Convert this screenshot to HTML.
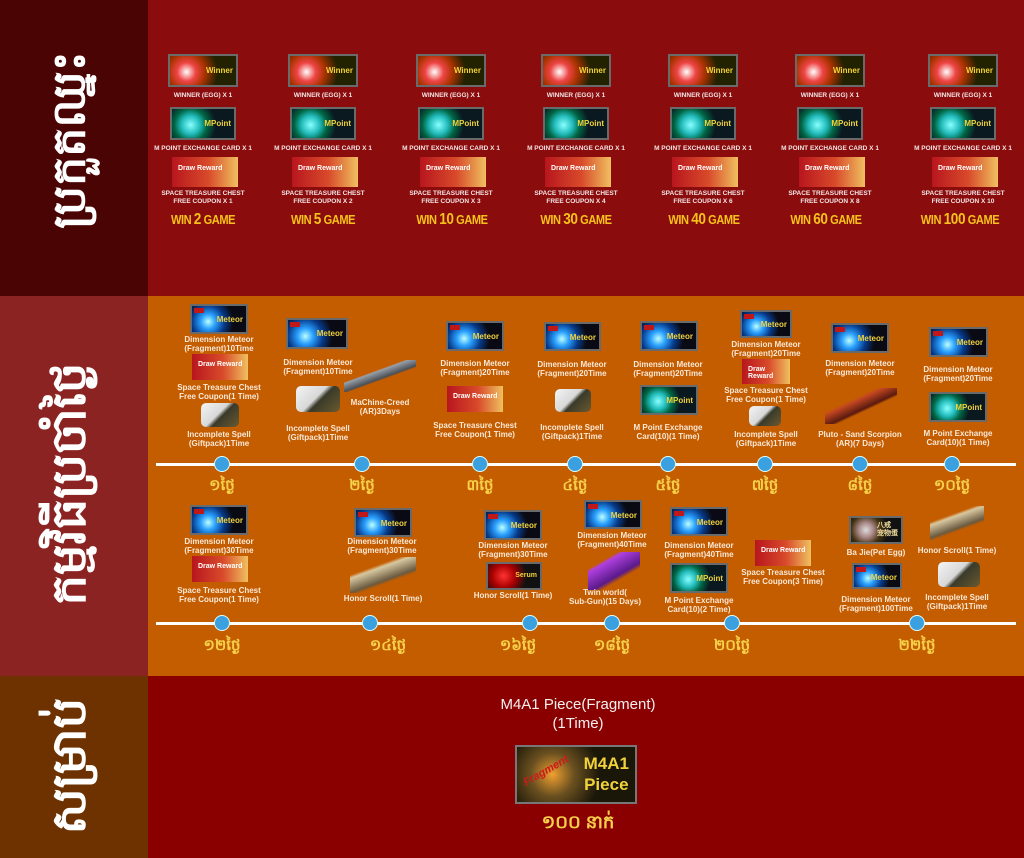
<!DOCTYPE html>
<html><head><meta charset="utf-8">
<style>
*{margin:0;padding:0;box-sizing:border-box}
body{width:1024px;height:858px;position:relative;overflow:hidden;font-family:"Liberation Sans",sans-serif;background:#8a0c0c}
.a{position:absolute}
.sec{position:absolute;left:0;width:1024px}
.side{position:absolute;left:0;top:0;width:148px;height:100%}
.vt{position:absolute;left:74px;color:#fff;font:bold 44px "Liberation Sans","Noto Sans CJK SC",sans-serif;white-space:nowrap;transform:translate(-50%,-50%) rotate(-90deg)}
.l{position:absolute;transform:translateX(-50%);text-align:center;font:bold 8px/9px "Liberation Sans",sans-serif;color:#fbe9d6;white-space:nowrap}
.tl{font:bold 6.5px/8px "Liberation Sans",sans-serif;color:#f4e4e4}
.win{position:absolute;transform:translateX(-50%) scaleX(0.85);font:bold 13px "Liberation Sans",sans-serif;color:#f5c21b;white-space:nowrap;letter-spacing:-0.5px}
.win b{font-size:16px}
.ic{position:absolute;border:2px solid #6a6a6a;background:#0b0b0b;overflow:hidden}
.meteor{background:radial-gradient(circle at 30% 60%,#bff 0,#2aa0ff 18%,#063a8a 40%,#0a0a14 62%)}
.meteor span,.mp span,.win2 span{position:absolute;right:3px;top:35%;font:bold 8px sans-serif;color:#f2d23a}
.meteor:before{content:"";position:absolute;left:2px;top:2px;width:10px;height:5px;background:#c01818}
.mp{background:radial-gradient(circle at 30% 55%,#8ff 0,#2bb 20%,#064 35%,#0a1820 55%)}
.mp span{color:#f2d23a}
.win2{background:radial-gradient(circle at 25% 55%,#fff 0,#e44 18%,#a30 35%,#220 60%)}
.draw{position:absolute;background:linear-gradient(90deg,#b8161e,#d84a2a 55%,#f0c060);border:none}
.draw span{position:absolute;left:6px;top:28%;font:bold 7px sans-serif;color:#fff}
.spell{position:absolute;background:linear-gradient(135deg,#f4f4f4 0,#d8d8d8 45%,#3a3a2a 55%,#6a5a30 100%);border-radius:5px}
.gun{position:absolute;background:linear-gradient(160deg,transparent 38%,#9aa0a8 40%,#4a4f55 55%,transparent 58%)}
.gun2{position:absolute;background:linear-gradient(155deg,transparent 35%,#c84a20 38%,#5a1a10 56%,transparent 60%)}
.gun3{position:absolute;background:linear-gradient(150deg,transparent 25%,#b040e0 30%,#5a1a8a 60%,transparent 68%)}
.scroll{position:absolute;background:linear-gradient(160deg,transparent 30%,#d8c8a0 36%,#6a5a40 60%,transparent 66%)}
.line{position:absolute;height:3px;background:#fff}
.dot{position:absolute;width:16px;height:16px;border-radius:50%;background:#3aa0e0;border:1px solid #dff;transform:translate(-50%,-50%)}
.day{position:absolute;transform:translateX(-50%);font:bold 15px "Liberation Sans",sans-serif;color:#f6d04a;white-space:nowrap}
</style></head><body>

<div class="sec" style="top:0;height:296px;background:#8a0c0c">
 <div class="side" style="background:#4a0404"></div>
 <div class="vt" style="top:140px;font-size:46px">ប្រកួតឈ្នះ</div>
</div>
<div class="sec" style="top:296px;height:380px;background:#c45c00">
 <div class="side" style="background:#8b2323"></div>
 <div class="vt" style="top:188px;font-size:48px">កម្មវិធីប្រចាំថ្ងៃ</div>
</div>
<div class="sec" style="top:676px;height:182px;background:#8a0000">
 <div class="side" style="background:#6e3200"></div>
 <div class="vt" style="top:90px;font-size:48px">សម្រាប់</div>
</div>

<div class="ic win2" style="left:168px;top:54px;width:70px;height:33px"><span>Winner</span></div>
<div class="ic win2" style="left:288px;top:54px;width:70px;height:33px"><span>Winner</span></div>
<div class="ic win2" style="left:416px;top:54px;width:70px;height:33px"><span>Winner</span></div>
<div class="ic win2" style="left:541px;top:54px;width:70px;height:33px"><span>Winner</span></div>
<div class="ic win2" style="left:668px;top:54px;width:70px;height:33px"><span>Winner</span></div>
<div class="ic win2" style="left:795px;top:54px;width:70px;height:33px"><span>Winner</span></div>
<div class="ic win2" style="left:928px;top:54px;width:70px;height:33px"><span>Winner</span></div>

<div class="l tl" style="left:203px;top:92px">WINNER (EGG) X 1</div>
<div class="l tl" style="left:323px;top:92px">WINNER (EGG) X 1</div>
<div class="l tl" style="left:451px;top:92px">WINNER (EGG) X 1</div>
<div class="l tl" style="left:576px;top:92px">WINNER (EGG) X 1</div>
<div class="l tl" style="left:703px;top:92px">WINNER (EGG) X 1</div>
<div class="l tl" style="left:830px;top:92px">WINNER (EGG) X 1</div>
<div class="l tl" style="left:963px;top:92px">WINNER (EGG) X 1</div>

<div class="ic mp" style="left:170px;top:107px;width:66px;height:33px"><span>MPoint</span></div>
<div class="ic mp" style="left:290px;top:107px;width:66px;height:33px"><span>MPoint</span></div>
<div class="ic mp" style="left:418px;top:107px;width:66px;height:33px"><span>MPoint</span></div>
<div class="ic mp" style="left:543px;top:107px;width:66px;height:33px"><span>MPoint</span></div>
<div class="ic mp" style="left:670px;top:107px;width:66px;height:33px"><span>MPoint</span></div>
<div class="ic mp" style="left:797px;top:107px;width:66px;height:33px"><span>MPoint</span></div>
<div class="ic mp" style="left:930px;top:107px;width:66px;height:33px"><span>MPoint</span></div>

<div class="l tl" style="left:203px;top:145px">M POINT EXCHANGE CARD X 1</div>
<div class="l tl" style="left:323px;top:145px">M POINT EXCHANGE CARD X 1</div>
<div class="l tl" style="left:451px;top:145px">M POINT EXCHANGE CARD X 1</div>
<div class="l tl" style="left:576px;top:145px">M POINT EXCHANGE CARD X 1</div>
<div class="l tl" style="left:703px;top:145px">M POINT EXCHANGE CARD X 1</div>
<div class="l tl" style="left:830px;top:145px">M POINT EXCHANGE CARD X 1</div>
<div class="l tl" style="left:963px;top:145px">M POINT EXCHANGE CARD X 1</div>

<div class="draw" style="left:172px;top:157px;width:66px;height:30px"><span>Draw Reward</span></div>
<div class="draw" style="left:292px;top:157px;width:66px;height:30px"><span>Draw Reward</span></div>
<div class="draw" style="left:420px;top:157px;width:66px;height:30px"><span>Draw Reward</span></div>
<div class="draw" style="left:545px;top:157px;width:66px;height:30px"><span>Draw Reward</span></div>
<div class="draw" style="left:672px;top:157px;width:66px;height:30px"><span>Draw Reward</span></div>
<div class="draw" style="left:799px;top:157px;width:66px;height:30px"><span>Draw Reward</span></div>
<div class="draw" style="left:932px;top:157px;width:66px;height:30px"><span>Draw Reward</span></div>

<div class="l tl" style="left:203px;top:190px">SPACE TREASURE CHEST<br>FREE COUPON  X 1</div>
<div class="l tl" style="left:323px;top:190px">SPACE TREASURE CHEST<br>FREE COUPON  X 2</div>
<div class="l tl" style="left:451px;top:190px">SPACE TREASURE CHEST<br>FREE COUPON  X 3</div>
<div class="l tl" style="left:576px;top:190px">SPACE TREASURE CHEST<br>FREE COUPON  X 4</div>
<div class="l tl" style="left:703px;top:190px">SPACE TREASURE CHEST<br>FREE COUPON  X 6</div>
<div class="l tl" style="left:830px;top:190px">SPACE TREASURE CHEST<br>FREE COUPON  X 8</div>
<div class="l tl" style="left:963px;top:190px">SPACE TREASURE CHEST<br>FREE COUPON  X 10</div>

<div class="win" style="left:203px;top:211px">WIN <b>2</b> GAME</div>
<div class="win" style="left:323px;top:211px">WIN <b>5</b> GAME</div>
<div class="win" style="left:452px;top:211px">WIN <b>10</b> GAME</div>
<div class="win" style="left:576px;top:211px">WIN <b>30</b> GAME</div>
<div class="win" style="left:704px;top:211px">WIN <b>40</b> GAME</div>
<div class="win" style="left:826px;top:211px">WIN <b>60</b> GAME</div>
<div class="win" style="left:960px;top:211px">WIN <b>100</b> GAME</div>

<div class="ic meteor" style="left:190px;top:304px;width:58px;height:30px"><span>Meteor</span></div>
<div class="l" style="left:219px;top:335px">Dimension Meteor<br>(Fragment)10Time</div>
<div class="draw" style="left:192px;top:354px;width:56px;height:26px"><span>Draw Reward</span></div>
<div class="l" style="left:219px;top:383px">Space Treasure Chest<br>Free Coupon(1 Time)</div>
<div class="spell" style="left:201px;top:403px;width:38px;height:24px"></div>
<div class="l" style="left:219px;top:430px">Incomplete Spell<br>(Giftpack)1Time</div>

<div class="ic meteor" style="left:286px;top:318px;width:62px;height:31px"><span>Meteor</span></div>
<div class="l" style="left:318px;top:358px">Dimension Meteor<br>(Fragment)10Time</div>
<div class="gun" style="left:344px;top:360px;width:72px;height:32px"></div>
<div class="l" style="left:380px;top:398px">MaChine-Creed<br>(AR)3Days</div>
<div class="spell" style="left:296px;top:386px;width:44px;height:26px"></div>
<div class="l" style="left:318px;top:424px">Incomplete Spell<br>(Giftpack)1Time</div>

<div class="ic meteor" style="left:446px;top:321px;width:58px;height:30px"><span>Meteor</span></div>
<div class="l" style="left:475px;top:359px">Dimension Meteor<br>(Fragment)20Time</div>
<div class="draw" style="left:447px;top:386px;width:56px;height:26px"><span>Draw Reward</span></div>
<div class="l" style="left:475px;top:421px">Space Treasure Chest<br>Free Coupon(1 Time)</div>

<div class="ic meteor" style="left:544px;top:322px;width:57px;height:29px"><span>Meteor</span></div>
<div class="l" style="left:572px;top:360px">Dimension Meteor<br>(Fragment)20Time</div>
<div class="spell" style="left:555px;top:389px;width:36px;height:23px"></div>
<div class="l" style="left:572px;top:423px">Incomplete Spell<br>(Giftpack)1Time</div>

<div class="ic meteor" style="left:640px;top:321px;width:58px;height:30px"><span>Meteor</span></div>
<div class="l" style="left:668px;top:360px">Dimension Meteor<br>(Fragment)20Time</div>
<div class="ic mp" style="left:640px;top:385px;width:58px;height:30px"><span>MPoint</span></div>
<div class="l" style="left:668px;top:423px">M Point Exchange<br>Card(10)(1 Time)</div>

<div class="ic meteor" style="left:740px;top:310px;width:52px;height:28px"><span>Meteor</span></div>
<div class="l" style="left:766px;top:340px">Dimension Meteor<br>(Fragment)20Time</div>
<div class="draw" style="left:742px;top:359px;width:48px;height:25px"><span>Draw Reward</span></div>
<div class="l" style="left:766px;top:386px">Space Treasure Chest<br>Free Coupon(1 Time)</div>
<div class="spell" style="left:749px;top:406px;width:32px;height:20px"></div>
<div class="l" style="left:766px;top:430px">Incomplete Spell<br>(Giftpack)1Time</div>

<div class="ic meteor" style="left:831px;top:323px;width:58px;height:30px"><span>Meteor</span></div>
<div class="l" style="left:860px;top:359px">Dimension Meteor<br>(Fragment)20Time</div>
<div class="gun2" style="left:825px;top:388px;width:72px;height:36px"></div>
<div class="l" style="left:860px;top:430px">Pluto - Sand Scorpion<br>(AR)(7 Days)</div>

<div class="ic meteor" style="left:929px;top:327px;width:59px;height:30px"><span>Meteor</span></div>
<div class="l" style="left:958px;top:365px">Dimension Meteor<br>(Fragment)20Time</div>
<div class="ic mp" style="left:929px;top:392px;width:58px;height:30px"><span>MPoint</span></div>
<div class="l" style="left:958px;top:429px">M Point Exchange<br>Card(10)(1 Time)</div>

<div class="line" style="left:156px;top:463px;width:860px"></div>
<div class="dot" style="left:222px;top:464px"></div>
<div class="dot" style="left:362px;top:464px"></div>
<div class="dot" style="left:480px;top:464px"></div>
<div class="dot" style="left:575px;top:464px"></div>
<div class="dot" style="left:668px;top:464px"></div>
<div class="dot" style="left:765px;top:464px"></div>
<div class="dot" style="left:860px;top:464px"></div>
<div class="dot" style="left:952px;top:464px"></div>
<div class="day" style="left:222px;top:476px">១ថ្ងៃ</div>
<div class="day" style="left:362px;top:476px">២ថ្ងៃ</div>
<div class="day" style="left:480px;top:476px">៣ថ្ងៃ</div>
<div class="day" style="left:575px;top:476px">៤ថ្ងៃ</div>
<div class="day" style="left:668px;top:476px">៥ថ្ងៃ</div>
<div class="day" style="left:765px;top:476px">៧ថ្ងៃ</div>
<div class="day" style="left:860px;top:476px">៨ថ្ងៃ</div>
<div class="day" style="left:952px;top:476px">១០ថ្ងៃ</div>

<div class="ic meteor" style="left:190px;top:505px;width:58px;height:30px"><span>Meteor</span></div>
<div class="l" style="left:219px;top:537px">Dimension Meteor<br>(Fragment)30Time</div>
<div class="draw" style="left:192px;top:556px;width:56px;height:26px"><span>Draw Reward</span></div>
<div class="l" style="left:219px;top:586px">Space Treasure Chest<br>Free Coupon(1 Time)</div>

<div class="ic meteor" style="left:354px;top:508px;width:58px;height:29px"><span>Meteor</span></div>
<div class="l" style="left:382px;top:537px">Dimension Meteor<br>(Fragment)30Time</div>
<div class="scroll" style="left:350px;top:557px;width:66px;height:36px"></div>
<div class="l" style="left:383px;top:594px">Honor Scroll(1 Time)</div>

<div class="ic meteor" style="left:484px;top:510px;width:58px;height:30px"><span>Meteor</span></div>
<div class="l" style="left:513px;top:541px">Dimension Meteor<br>(Fragment)30Time</div>
<div class="ic" style="left:486px;top:562px;width:56px;height:28px;background:radial-gradient(circle at 30% 50%,#f33 0,#a00 30%,#111 60%)"><span style="position:absolute;right:3px;top:8px;font:bold 7px sans-serif;color:#f2d23a">Serum</span></div>
<div class="l" style="left:513px;top:591px">Honor Scroll(1 Time)</div>

<div class="ic meteor" style="left:584px;top:500px;width:58px;height:29px"><span>Meteor</span></div>
<div class="l" style="left:612px;top:531px">Dimension Meteor<br>(Fragment)40Time</div>
<div class="gun3" style="left:588px;top:552px;width:52px;height:38px"></div>
<div class="l" style="left:605px;top:588px">Twin world(<br>Sub-Gun)(15 Days)</div>

<div class="ic meteor" style="left:670px;top:507px;width:58px;height:29px"><span>Meteor</span></div>
<div class="l" style="left:699px;top:541px">Dimension Meteor<br>(Fragment)40Time</div>
<div class="ic mp" style="left:670px;top:563px;width:58px;height:30px"><span>MPoint</span></div>
<div class="l" style="left:699px;top:596px">M Point Exchange<br>Card(10)(2 Time)</div>

<div class="draw" style="left:755px;top:540px;width:56px;height:26px"><span>Draw Reward</span></div>
<div class="l" style="left:783px;top:568px">Space Treasure Chest<br>Free Coupon(3 Time)</div>

<div class="ic" style="left:849px;top:516px;width:54px;height:28px;background:radial-gradient(circle at 30% 50%,#ddd 0,#a88 20%,#431 40%,#111 60%)"><span style="position:absolute;right:3px;top:4px;font:bold 7px/8px sans-serif;color:#f2e0a0">八戒<br>宠物蛋</span></div>
<div class="l" style="left:876px;top:548px">Ba Jie(Pet Egg)</div>
<div class="ic meteor" style="left:852px;top:563px;width:50px;height:26px"><span>Meteor</span></div>
<div class="l" style="left:876px;top:595px">Dimension Meteor<br>(Fragment)100Time</div>

<div class="scroll" style="left:930px;top:506px;width:54px;height:34px"></div>
<div class="l" style="left:957px;top:546px">Honor Scroll(1 Time)</div>
<div class="spell" style="left:938px;top:562px;width:42px;height:25px"></div>
<div class="l" style="left:957px;top:593px">Incomplete Spell<br>(Giftpack)1Time</div>

<div class="line" style="left:156px;top:622px;width:860px"></div>
<div class="dot" style="left:222px;top:623px"></div>
<div class="dot" style="left:370px;top:623px"></div>
<div class="dot" style="left:530px;top:623px"></div>
<div class="dot" style="left:612px;top:623px"></div>
<div class="dot" style="left:732px;top:623px"></div>
<div class="dot" style="left:917px;top:623px"></div>
<div class="day" style="left:222px;top:636px">១២ថ្ងៃ</div>
<div class="day" style="left:388px;top:636px">១៤ថ្ងៃ</div>
<div class="day" style="left:518px;top:636px">១៦ថ្ងៃ</div>
<div class="day" style="left:612px;top:636px">១៨ថ្ងៃ</div>
<div class="day" style="left:732px;top:636px">២០ថ្ងៃ</div>
<div class="day" style="left:917px;top:636px">២២ថ្ងៃ</div>

<div class="a" style="left:578px;top:695px;transform:translateX(-50%);text-align:center;color:#f4f0f0;font:15px/19px 'Liberation Sans',sans-serif;white-space:nowrap">M4A1 Piece(Fragment)<br>(1Time)</div>
<div class="ic" style="left:515px;top:745px;width:122px;height:59px;border-color:#777;background:radial-gradient(circle at 30% 50%,#f0a030 0,#6a5020 25%,#1a1608 55%)">
 <span style="position:absolute;left:4px;top:18px;font:italic bold 11px sans-serif;color:#d01818;transform:rotate(-30deg)">Fragment</span>
 <span style="position:absolute;right:6px;top:6px;font:bold 17px/21px 'Liberation Sans',sans-serif;color:#f2d23a;text-align:center">M4A1<br>Piece</span>
</div>
<div class="day" style="left:578px;top:810px;font-size:18px">១០០ នាក់</div>

</body></html>
